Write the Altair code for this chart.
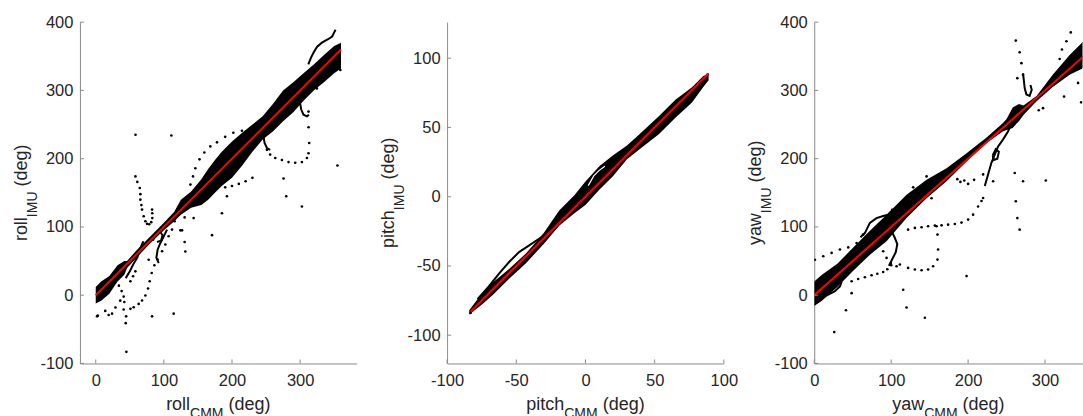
import altair as alt
import pandas as pd

# ---------------- data ----------------
# ROLL
roll_band_x = [0, 8, 20, 32, 42, 46, 60, 80, 100, 115, 125, 140, 155, 165, 175, 185, 200, 215, 230, 245, 260, 275, 290, 305, 320, 335, 350, 360]
roll_band_lo = [-12, -8, 2, 20, 30, 40, 55, 76, 95, 108, 118, 128, 132, 140, 150, 160, 172, 190, 210, 228, 240, 255, 268, 285, 300, 312, 325, 332]
roll_band_hi = [12, 20, 28, 44, 50, 50, 66, 86, 106, 122, 140, 152, 170, 185, 198, 210, 225, 238, 250, 262, 280, 300, 312, 325, 338, 352, 365, 370]
roll_curves = {
    "a": [(312, 338), (316, 348), (320, 356), (325, 364), (332, 370), (341, 375), (347, 379), (350, 385), (352, 389)],
    "b": [(300, 281), (301.6, 272), (305, 264.5), (310, 262), (313, 264.5)],
    "c": [(246, 235), (247.8, 223), (251.3, 215.6), (256, 213)],
    "d": [(44, 25), (50, 35), (56, 47), (61, 55), (66, 70), (70, 79)],
    "e": [(104.7, 96), (99.7, 86), (94.9, 76.5), (90.9, 67), (89, 55), (92.4, 47)],
    "f": [(84, 80), (88, 90), (94, 94), (98, 88), (96, 80), (90, 78)],
}
roll_dots = [
    (58.4, 235), (111, 234), (45, -83), (2, -31), (3, -30), (14, -23), (19, -29), (24, -27), (29, -18), (36, -8),
    (41, -21), (44.6, -31), (44, -41), (51, -20), (82.7, -31), (114.4, -27), (131.5, 64), (143.7, 113), (170.7, 88),
    (126.7, 95), (185.3, 120), (192.6, 145), (130.5, 114), (130.5, 78), (124.2, 95), (275.7, 171), (279.6, 145),
    (302.6, 130), (354.8, 190), (77.7, 52),
    (58.3, 174), (61, 166), (64.6, 157), (65.5, 148), (65.5, 140), (67, 132), (68, 125.4), (70.4, 115.6), (72.9, 108.3),
    (75.3, 104.5), (78.5, 104), (81.5, 107), (83, 113), (83, 120), (82.7, 125.4),
    (55.7, -17.6), (63, -12.8), (68, -7.8), (72.9, -0.5), (76.8, 9.8), (79.2, 20.5), (82.1, 32.6), (86.1, 43.9),
    (90.9, 52.2), (97.4, 64.4), (102.2, 74.2), (107, 86.3), (112, 96.1), (115.8, 108.3), (119.4, 118),
    (34, 14), (38, 6), (41, -2), (42, -10), (50.9, 20.5), (54.8, 27.8), (58.2, 35),
    (139, 162), (142.8, 174), (146.2, 186), (152.3, 199), (159.4, 209), (168.2, 218), (178, 224), (190, 232),
    (202, 238), (214.6, 241), (226, 243),
    (251.3, 213), (256, 206), (263.5, 201), (273.3, 198), (283, 195), (292.8, 194), (302.6, 195), (310, 201),
    (312.3, 208), (313.3, 223), (312.4, 246), (312.3, 269),
    (190, 158), (200, 160), (210, 163), (220, 167), (230, 172),
    (324.6, 303), (344, 330), (351, 329), (359, 330),
]
roll_red = [(0, 0), (360, 360)]

# PITCH
pitch_band_x = [-84, -75, -67, -55, -43, -30, -19, -8, 0, 10, 20, 30, 40, 53, 65, 77, 85, 89]
pitch_band_lo = [-85, -78, -71, -59, -48, -34, -21, -12, -6, 5, 15, 27, 35, 45, 57, 68, 79, 84]
pitch_band_hi = [-82, -70, -62, -52, -41, -26, -10, 1, 11, 22, 30, 37, 46, 58, 70, 79, 87, 89]
pitch_curves = {
    "a": [(-78, -74), (-70, -65), (-62, -55), (-55, -47), (-48, -40), (-42, -36), (-36, -32), (-30, -28)],
}
pitch_white = [(2, 8), (6, 15), (10, 19), (14, 22)]
pitch_dots = [(-83, -84), (88, 88)]
pitch_red = [(-83, -83), (89, 89)]

# YAW
yaw_band_x = [0, 10, 20, 30, 50, 72, 94, 120, 146, 172, 198, 224, 245, 250, 258, 266, 272, 289, 310, 332, 350]
yaw_band_lo = [-16, -8, 2, 12, 35, 59, 79, 113, 142, 167, 196, 223, 240, 242, 245, 255, 264, 284, 305, 323, 333]
yaw_band_hi = [20, 30, 38, 46, 69, 94, 118, 147, 169, 186, 208, 231, 252, 258, 275, 280, 278, 292, 323, 352, 372]
yaw_curves = {
    "a": [(60, 85), (65.8, 91), (72.3, 106), (80.9, 113), (89.6, 116), (96, 118), (100.4, 123)],
    "b": [(0.9, -9), (9.6, -4), (18.2, 1), (26.9, 6), (33.4, 13), (35.6, 20)],
    "c": [(100, 95), (104, 86), (108, 75), (106, 63), (101, 52), (97, 43)],
    "d": [(221.7, 160), (230.3, 194), (239, 218), (245.3, 228), (252, 240), (256.3, 252), (260.6, 262)],
    "e": [(232, 205), (236, 214), (240, 210), (238, 200), (233, 198), (232, 205)],
    "f": [(271.4, 325), (273.6, 303), (275.8, 294), (280, 292), (282.7, 301), (281, 308)],
}
yaw_dots = [
    (26, -54), (41.2, -22), (48.6, 3), (115.6, 8), (120, -18), (143.8, -33), (198, 28), (262, 373), (267, 356),
    (269.3, 340), (271.4, 323), (264, 318), (291.8, 271), (297.4, 274), (324.7, 291), (333.4, 385), (347, 282.5),
    (342.9, 311), (327.8, 372), (322, 360), (319, 346), (262, 137.6), (264, 113), (267, 96), (260.6, 179),
    (271.4, 167), (301, 168), (207.8, 169), (219.5, 177), (232.5, 167), (128.6, 158), (146, 174), (152.5, 142),
    (101.3, 125), (190, 166), (195, 168), (200, 163), (186, 170),
    (0.9, 52), (11.7, 57), (22.6, 62), (33.4, 67), (44.2, 70), (55, 76.5), (63.6, 88.8),
    (48.6, 20.5), (57.1, 23.8), (65.8, 26.3), (74.5, 29.2), (82, 31.5), (89.6, 34), (95, 38), (100, 44),
    (111.3, 45), (122, 40), (130.8, 37.6), (139.5, 36.6), (148, 37.6), (154.5, 42.4), (160.2, 52.2), (161, 66.9),
    (160.2, 88.8), (159, 101),
    (122, 96), (130.8, 98.6), (139.5, 99.6), (148, 101), (156.8, 102), (165.5, 102.3), (174, 103.3), (182.7, 104.3),
    (191.4, 106.4), (200, 110.8), (206.5, 118), (213, 130), (217.4, 138), (219.5, 142.4),
    (89.6, 64.4), (94, 54.6), (99.6, 47.2), (107, 42.4),
]
yaw_red = [(0, 0), (360, 360)]

# ticks / axes
roll_xticks = [0, 100, 200, 300]
roll_yticks = [-100, 0, 100, 200, 300, 400]
pitch_xticks = [-100, -50, 0, 50, 100]
pitch_yticks = [-100, -50, 0, 50, 100]
yaw_xticks = [0, 100, 200, 300]
yaw_yticks = [-100, 0, 100, 200, 300, 400]

# ---------------- styling ----------------
FONT = "Liberation Sans"
AX = "#8a8a8a"
TXT = "#262626"
H = 341.6
TICK_FS = 16.5
TITLE_FS = 18
SUB_FS = 14
DEG = "(deg)"

ADV = {"r": 333, "o": 556, "l": 222, "p": 556, "i": 222, "t": 278, "c": 500, "h": 556, "y": 500,
       "a": 556, "w": 722, "C": 722, "M": 833, "I": 278, "U": 722, " ": 278,
       "(": 333, ")": 333, "d": 556, "e": 556, "g": 556}


def tw(s, size):
    return sum(ADV.get(ch, 556) for ch in s) / 1000.0 * size


def band_df(xs, lo, hi):
    return pd.DataFrame({"x": xs, "lo": lo, "hi": hi})


def curves_df(curves):
    rows = []
    for k, pts in curves.items():
        for i, (x, y) in enumerate(pts):
            rows.append({"c": k, "i": i, "x": x, "y": y})
    return pd.DataFrame(rows)


def pts_df(pts):
    return pd.DataFrame({"x": [p[0] for p in pts], "y": [p[1] for p in pts], "i": list(range(len(pts)))})


ONE = pd.DataFrame({"k": [0]})
LABEL = "'' + datum.value"


def panel(main, sub_x, sub_y, W, xdom, ydom, xticks, yticks, band, curves, dots, red,
          white=None, clip=False, anchor=False):
    xs = alt.Scale(domain=xdom, nice=False, zero=False)
    ys = alt.Scale(domain=ydom, nice=False, zero=False)
    xax = alt.Axis(values=xticks, title=None, grid=False, ticks=False, labelFontSize=TICK_FS,
                   labelFont=FONT, labelColor=TXT, domainColor=AX, domainWidth=1, labelExpr=LABEL,
                   labelPadding=9, labelFlush=False, labelOverlap=False)
    yax = alt.Axis(values=yticks, title=None, grid=False, ticks=False, labelFontSize=TICK_FS,
                   labelFont=FONT, labelColor=TXT, domainColor=AX, domainWidth=1, labelExpr=LABEL,
                   labelPadding=7, labelOverlap=False)
    X = lambda f="x": alt.X(f + ":Q", scale=xs, axis=xax)
    Y = lambda f="y": alt.Y(f + ":Q", scale=ys, axis=yax)

    layers = []
    layers.append(alt.Chart(band).mark_area(color="black", clip=clip, opacity=1)
                  .encode(x=X(), y=Y("lo"), y2="hi:Q"))
    layers.append(alt.Chart(curves_df(curves)).mark_line(color="black", strokeWidth=2, clip=clip)
                  .encode(x=X(), y=Y(), detail="c:N", order="i:Q"))
    if white:
        layers.append(alt.Chart(pts_df(white)).mark_line(color="white", strokeWidth=1.2, clip=clip)
                      .encode(x=X(), y=Y(), order="i:Q"))
    layers.append(alt.Chart(pts_df(dots)).mark_circle(color="black", size=7, opacity=1, clip=clip)
                  .encode(x=X(), y=Y()))
    layers.append(alt.Chart(pts_df(red)).mark_line(color="#ff0000", strokeWidth=2, clip=clip)
                  .encode(x=X(), y=Y(), order="i:Q"))
    # inward ticks (MATLAB style)
    layers.append(alt.Chart(pd.DataFrame({"x": xticks})).mark_rule(color=AX, strokeWidth=1)
                  .encode(x=X(), y=alt.value(H), y2=alt.value(H - 4)))
    layers.append(alt.Chart(pd.DataFrame({"y": yticks})).mark_rule(color=AX, strokeWidth=1)
                  .encode(y=Y(), x=alt.value(0), x2=alt.value(4)))

    # axis titles with subscripts
    w_main = tw(main, TITLE_FS)
    w_subx = tw(sub_x, SUB_FS)
    w_suby = tw(sub_y, SUB_FS)
    w_sp = tw(" ", TITLE_FS)
    w_deg = tw(DEG, TITLE_FS)
    # x title
    x0 = W / 2 - (w_main + w_subx + w_sp + w_deg) / 2
    base_x = H + 46.5
    for txt, fs, xx, yy in [(main, TITLE_FS, x0, base_x),
                            (sub_x, SUB_FS, x0 + w_main, base_x + 8),
                            (DEG, TITLE_FS, x0 + w_main + w_subx + w_sp, base_x)]:
        layers.append(alt.Chart(ONE).mark_text(text=txt, font=FONT, fontSize=fs, color=TXT,
                                               align="left", baseline="alphabetic")
                      .encode(x=alt.value(xx), y=alt.value(yy)))
    # y title (rotated)
    y0 = H / 2 + (w_main + w_suby + w_sp + w_deg) / 2
    base_y = -53
    for txt, fs, xx, yy in [(main, TITLE_FS, base_y, y0),
                            (sub_y, SUB_FS, base_y + 10, y0 - w_main),
                            (DEG, TITLE_FS, base_y, y0 - w_main - w_suby - w_sp)]:
        layers.append(alt.Chart(ONE).mark_text(text=txt, font=FONT, fontSize=fs, color=TXT,
                                               align="left", baseline="alphabetic", angle=270)
                      .encode(x=alt.value(xx), y=alt.value(yy)))
    if anchor:
        layers.append(alt.Chart(ONE).mark_rule(color="white", strokeWidth=1)
                      .encode(x=alt.value(-79), x2=alt.value(-79), y=alt.value(-20.2), y2=alt.value(-19.6)))
    return alt.layer(*layers).properties(width=W, height=H)


p1 = panel("roll", "CMM", "IMU", 277, [-23.2, 383], [-100, 400], roll_xticks, roll_yticks,
           band_df(roll_band_x, roll_band_lo, roll_band_hi), roll_curves, roll_dots, roll_red, anchor=True)
p2 = panel("pitch", "CMM", "IMU", 277, [-100, 100], [-120.4, 126], pitch_xticks, pitch_yticks,
           band_df(pitch_band_x, pitch_band_lo, pitch_band_hi), pitch_curves, pitch_dots, pitch_red,
           white=pitch_white)
p3 = panel("yaw", "CMM", "IMU", 268.5, [0, 348.7], [-100, 400], yaw_xticks, yaw_yticks,
           band_df(yaw_band_x, yaw_band_lo, yaw_band_hi), yaw_curves, yaw_dots, yaw_red, clip=True)

chart = alt.hconcat(p1, p2, p3, spacing=90.5, bounds="flush").properties(padding=0).configure_view(
    stroke="transparent")

chart.save("out.html", embed_options={"renderer": "svg", "actions": False})
